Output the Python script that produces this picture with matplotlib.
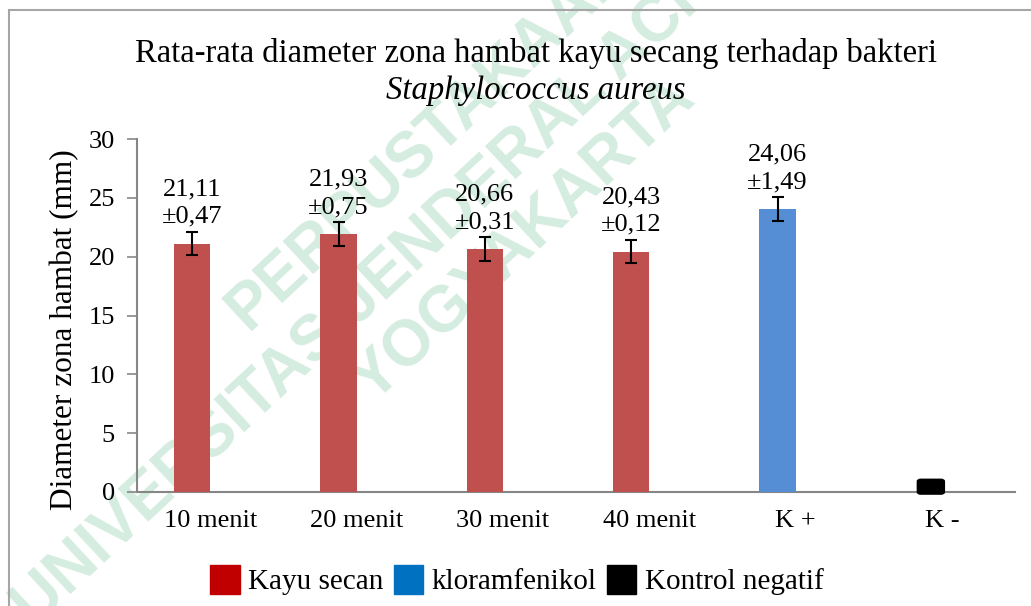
import matplotlib
matplotlib.use("Agg")
import matplotlib.pyplot as plt
from matplotlib.patches import Patch, Rectangle, FancyBboxPatch
import numpy as np

plt.rcParams['font.family'] = ['Liberation Serif', 'DejaVu Serif']

# data
categories = ["10 menit", "20 menit", "30 menit", "40 menit", "K +", "K -"]
means = [21.11, 21.93, 20.66, 20.43, 24.06, 0.0]
sds = [0.47, 0.75, 0.31, 0.12, 1.49]
err_bars = [1, 1, 1, 1, 1]
bar_colors = ["#C0504D", "#C0504D", "#C0504D", "#C0504D", "#558ED5"]
legend_labels = ["Kayu secan", "kloramfenikol", "Kontrol negatif"]
legend_colors = ["#C00000", "#0070C0", "#000000"]
yticks = [0, 5, 10, 15, 20, 25, 30]


def fmt(v):
    return f"{v:.2f}".replace(".", ",")


fig = plt.figure(figsize=(10.31, 6.06), dpi=100)

# faint library watermark behind the chart
wm_color = "#d5ece0"
wm_lines = ["PERPUSTAKAAN", "UNIVERSITAS JENDERAL ACHMAD YANI", "YOGYAKARTA"]
wm_pos = [(430, 139), (479, 191), (524, 240)]
for txt, (px, py) in zip(wm_lines, wm_pos):
    fig.text(px / 1031, 1 - py / 606, txt, rotation=43, ha="center",
             va="center", rotation_mode="anchor", fontsize=46,
             fontweight="bold", family="Liberation Sans", color=wm_color,
             zorder=-1)

# outer chart frame
fig.patches.append(Rectangle((9 / 1031, -0.1), 1.2, 1.1 - 10 / 606,
                             transform=fig.transFigure, fill=False,
                             edgecolor="#a6a6a6", linewidth=1.5, zorder=1))

ax = fig.add_axes([137 / 1031, 1 - 492 / 606, 878 / 1031, 353 / 606])
ax.patch.set_alpha(0)

x = np.arange(len(categories))
offset = -0.123
n = len(sds)
ax.bar(x[:n] + offset, means[:n], width=0.25, color=bar_colors, zorder=3)
ax.errorbar(x[:n] + offset, means[:n], yerr=err_bars, fmt="none",
            ecolor="black", elinewidth=1.5, capsize=4.5, capthick=1.5,
            zorder=4)

for xi, m, s, e in zip(x[:n] + offset, means[:n], sds, err_bars):
    ax.annotate(f"{fmt(m)}\n±{fmt(s)}", (xi, m + e), xytext=(0, 3),
                textcoords="offset points", ha="center", va="bottom",
                fontsize=19, linespacing=1.3)

# negative control drawn as a small rounded black block on the axis
k = len(categories) - 1
ax.add_patch(FancyBboxPatch((x[k] - 0.075 - 0.09, means[k] - 0.15), 0.18, 1.2,
                            boxstyle="round,pad=0.0,rounding_size=0.02",
                            facecolor="black", edgecolor="black",
                            linewidth=1.5, zorder=4, mutation_aspect=8,
                            clip_on=False))

ax.set_xlim(-0.5, len(categories) - 0.5)
ax.set_ylim(0, 30)
ax.set_yticks(yticks)
ax.set_xticks(x)
ax.set_xticklabels(categories)
ax.tick_params(axis="x", length=0, pad=13, labelsize=19)
ax.tick_params(axis="y", length=7, width=1.2, color="#868686", pad=9,
               labelsize=19)
for side in ["top", "right"]:
    ax.spines[side].set_visible(False)
for side in ["left", "bottom"]:
    ax.spines[side].set_color("#868686")
    ax.spines[side].set_linewidth(1.5)
ax.spines["bottom"].set_zorder(2)

fig.text(65 / 1031, 1 - 330 / 606, "Diameter zona hambat (mm)",
         rotation=90, ha="center", va="center", fontsize=22.5)

fig.text(536 / 1031, 1 - 62 / 606,
         "Rata-rata diameter zona hambat kayu secang terhadap bakteri",
         ha="center", va="baseline", fontsize=23.5)
fig.text(536 / 1031, 1 - 99 / 606, "Staphylococcus aureus", ha="center",
         va="baseline", fontsize=23.5, style="italic")

handles = [Patch(facecolor=c, edgecolor=c) for c in legend_colors]
fig.legend(handles, legend_labels, loc="center", ncol=3,
           bbox_to_anchor=(517 / 1031, 1 - 580 / 606), frameon=False,
           fontsize=21, handlelength=1.0, handleheight=1.16,
           handletextpad=0.3, columnspacing=0.35, borderpad=0)

fig.savefig("out.png", dpi=100)
